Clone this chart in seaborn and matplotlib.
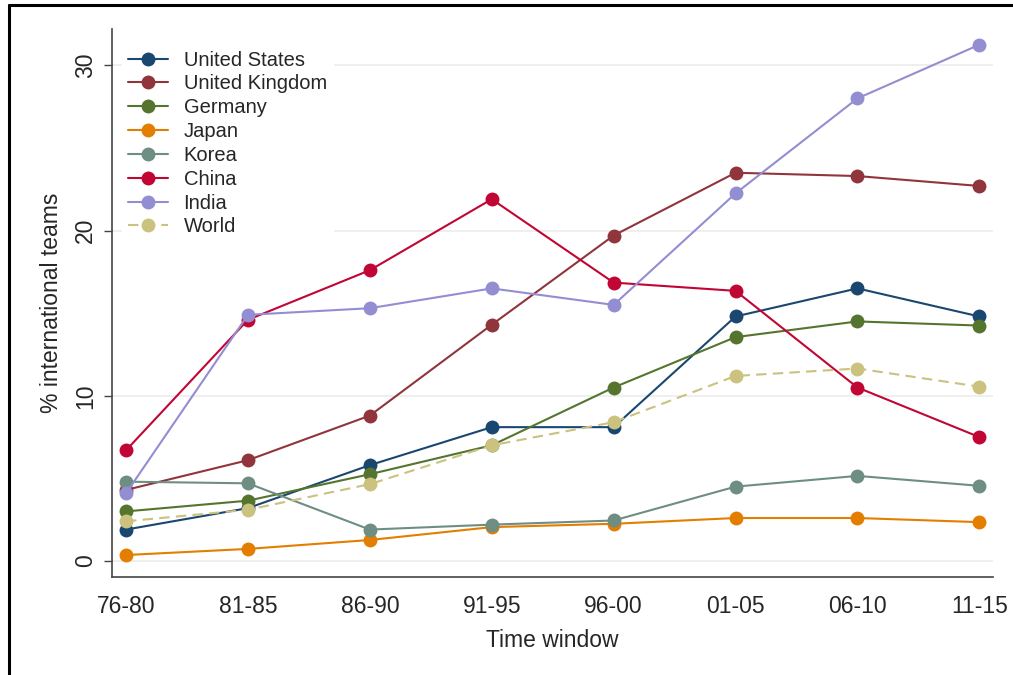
import numpy as np
import pandas as pd
import matplotlib
matplotlib.use("Agg")
import matplotlib.pyplot as plt
import seaborn as sns

sns.set_style("white")
plt.rcParams['font.family'] = ['Liberation Sans', 'DejaVu Sans']

windows = ["76-80", "81-85", "86-90", "91-95", "96-00", "01-05", "06-10", "11-15"]
countries = ["United States", "United Kingdom", "Germany", "Japan", "Korea",
             "China", "India", "World"]

united_states = [1.9, 3.2, 5.8, 8.1, 8.1, 14.8, 16.5, 14.8]
united_kingdom = [4.3, 6.1, 8.8, 14.3, 19.7, 23.5, 23.3, 22.7]
germany = [3.0, 3.65, 5.25, 7.0, 10.5, 13.55, 14.5, 14.25]
japan = [0.36, 0.73, 1.27, 2.05, 2.25, 2.6, 2.6, 2.35]
korea = [4.8, 4.7, 1.9, 2.2, 2.45, 4.5, 5.15, 4.55]
china = [6.7, 14.6, 17.6, 21.9, 16.85, 16.35, 10.5, 7.5]
india = [4.1, 14.9, 15.3, 16.5, 15.5, 22.25, 28.0, 31.25]
world = [2.4, 3.1, 4.65, 7.0, 8.4, 11.2, 11.65, 10.55]

colors = ["#1a476f", "#90353b", "#55752f", "#e37e00", "#6e8e84",
          "#c10534", "#938dd2", "#cac27e"]

series = [united_states, united_kingdom, germany, japan, korea, china, india, world]
rows = []
for name, vals in zip(countries, series):
    for w, v in zip(windows, vals):
        rows.append({"window": w, "share": v, "country": name})
df = pd.DataFrame(rows)

fig = plt.figure(figsize=(10.13, 6.75), dpi=100)
ax = fig.add_axes([0.1106, 0.1452, 0.8694, 0.8118])

for y in [0, 10, 20, 30]:
    ax.axhline(y, color="#ececec", lw=1.2, zorder=0)

dashes = {c: "" for c in countries}
dashes["World"] = (5, 3)
markers = {c: "o" for c in countries}

sns.lineplot(data=df, x="window", y="share", hue="country", style="country",
             hue_order=countries, style_order=countries,
             palette=colors, dashes=dashes, markers=markers,
             markersize=10, markeredgewidth=0, linewidth=1.5, ax=ax)

ax.set_xlim(-0.115, 7.11)
ax.set_ylim(-0.97, 32.2)
ax.set_yticks([0, 10, 20, 30])
ax.set_xticks(range(len(windows)))
ax.set_xticklabels(windows)
ax.tick_params(axis="x", length=6, width=1, color="#444444", labelsize=16.5, pad=7)
ax.tick_params(axis="y", length=6, width=1, color="#444444", labelsize=16.5, pad=5,
               left=True)
for lab in ax.get_yticklabels():
    lab.set_rotation(90)
    lab.set_va("center")
ax.set_xlabel("Time window", fontsize=16.5, labelpad=8)
ax.set_ylabel("% international teams", fontsize=16.5, labelpad=8)
sns.despine(ax=ax)
for s in ["left", "bottom"]:
    ax.spines[s].set_color("#444444")
    ax.spines[s].set_linewidth(1.2)
ax.grid(False)

leg = ax.legend(loc="upper left", bbox_to_anchor=(0.0, 0.99), fontsize=14.5,
                frameon=True, framealpha=1, edgecolor="white", facecolor="white",
                handlelength=2.0, handletextpad=0.75, labelspacing=0.24,
                borderpad=0.3, fancybox=False)

# screenshot frame
fig.add_artist(plt.Line2D([0.009, 0.009], [0, 0.992], color="black", lw=2.2,
                          transform=fig.transFigure))
fig.add_artist(plt.Line2D([0.009, 1.0], [0.992, 0.992], color="black", lw=2.2,
                          transform=fig.transFigure))

fig.savefig("out.png", dpi=100)
